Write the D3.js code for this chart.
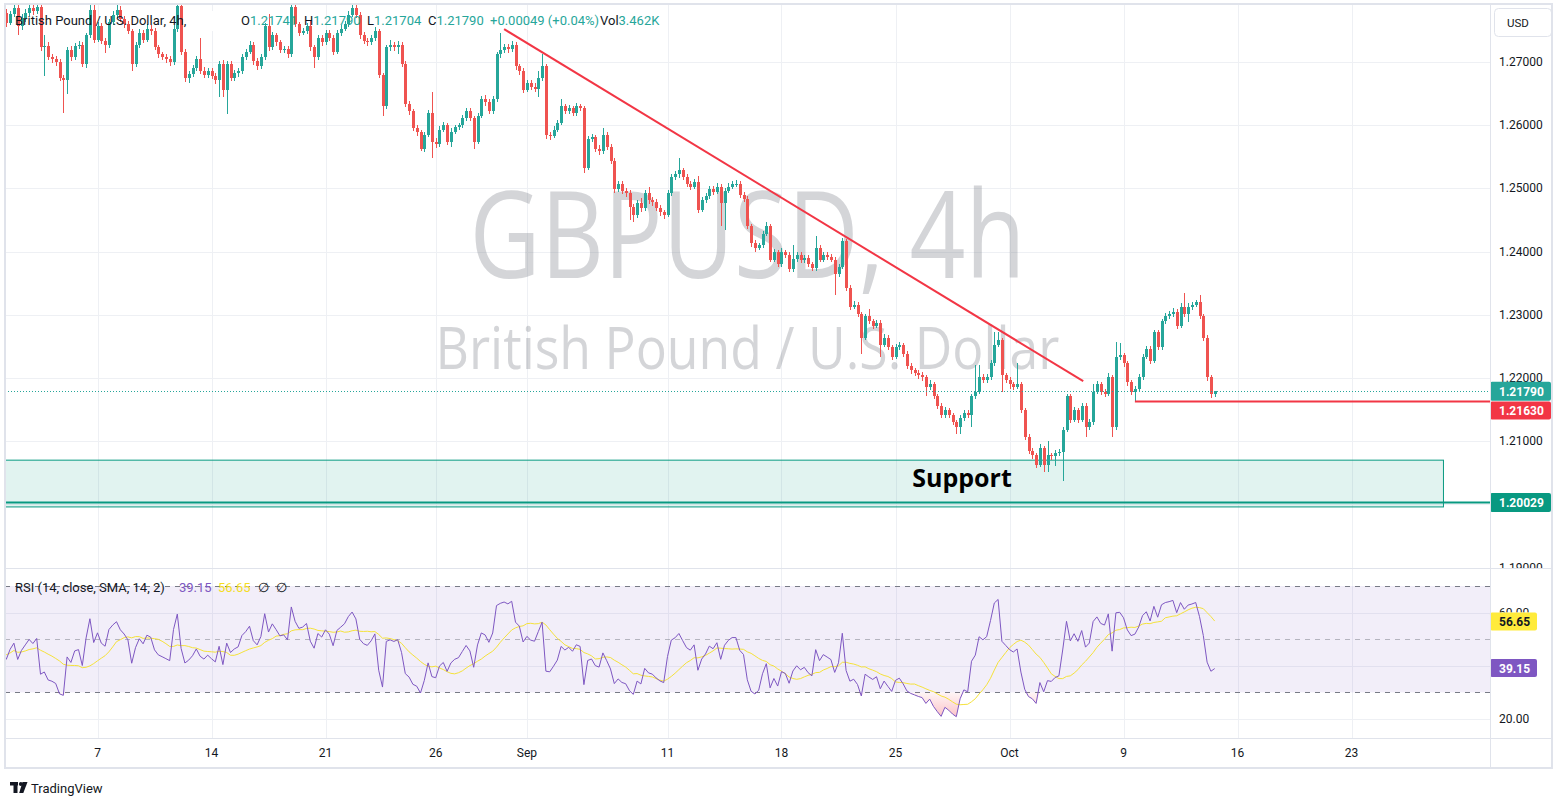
<!DOCTYPE html>
<html>
<head>
<meta charset="utf-8">
<script src="https://cdn.jsdelivr.net/npm/d3@7"></script>
<style>
  body { margin: 0; background: #fff; }
  svg { display: block; font-family: Roboto, "Noto Sans", sans-serif; }
</style>
</head>
<body>
<svg id="chart" width="1567" height="807"></svg>
<script>
// ---- data (GBPUSD 4h) ----
const firstOpen = 1.2770

const closes = [
  1.2778,1.2762,1.2776,1.2785,1.2757,1.2770,1.2778,1.2786,1.2780,1.2787,
  1.2723,1.2726,1.2708,1.2705,1.2700,1.2675,1.2671,1.2719,1.2708,1.2725,
  1.2727,1.2697,1.2742,1.2783,1.2735,1.2757,1.2734,1.2727,1.2764,1.2775,
  1.2783,1.2768,1.2760,1.2749,1.2697,1.2727,1.2746,1.2735,1.2753,1.2749,
  1.2723,1.2712,1.2708,1.2704,1.2700,1.2753,1.2788,1.2716,1.2675,1.2681,
  1.2690,1.2704,1.2686,1.2679,1.2686,1.2678,1.2671,1.2697,1.2656,1.2697,
  1.2675,1.2682,1.2686,1.2708,1.2716,1.2727,1.2701,1.2693,1.2708,1.2757,
  1.2723,1.2742,1.2731,1.2719,1.2721,1.2712,1.2787,1.2760,1.2746,1.2749,
  1.2757,1.2723,1.2708,1.2738,1.2731,1.2746,1.2738,1.2716,1.2746,1.2753,
  1.2760,1.2775,1.2785,1.2775,1.2742,1.2734,1.2731,1.2738,1.2749,1.2679,
  1.2630,1.2723,1.2727,1.2723,1.2727,1.2697,1.2634,1.2622,1.2596,1.2589,
  1.2563,1.2585,1.2619,1.2574,1.2570,1.2593,1.2600,1.2574,1.2590,1.2597,
  1.2600,1.2611,1.2622,1.2611,1.2574,1.2615,1.2641,1.2637,1.2622,1.2641,
  1.2712,1.2719,1.2723,1.2720,1.2727,1.2693,1.2686,1.2656,1.2667,1.2660,
  1.2658,1.2675,1.2693,1.2585,1.2583,1.2593,1.2604,1.2630,1.2622,1.2627,
  1.2619,1.2630,1.2627,1.2533,1.2578,1.2581,1.2563,1.2559,1.2585,1.2566,
  1.2544,1.2499,1.2507,1.2496,1.2492,1.2470,1.2458,1.2477,1.2469,1.2492,
  1.2481,1.2478,1.2469,1.2462,1.2458,1.2492,1.2518,1.2522,1.2529,1.2518,
  1.2507,1.2503,1.2510,1.2466,1.2481,1.2488,1.2499,1.2495,1.2503,1.2477,
  1.2496,1.2503,1.2507,1.2507,1.2490,1.2484,1.2440,1.2413,1.2406,1.2410,
  1.2428,1.2440,1.2387,1.2399,1.2380,1.2399,1.2395,1.2372,1.2388,1.2395,
  1.2387,1.2390,1.2380,1.2374,1.2406,1.2387,1.2395,1.2391,1.2387,1.2365,
  1.2376,1.2417,1.2343,1.2313,1.2316,1.2301,1.2264,1.2298,1.2290,1.2283,
  1.2287,1.2253,1.2264,1.2249,1.2234,1.2249,1.2252,1.2238,1.2219,1.2212,
  1.2208,1.2204,1.2201,1.2186,1.2190,1.2171,1.2156,1.2141,1.2149,1.2141,
  1.2130,1.2122,1.2137,1.2145,1.2141,1.2171,1.2178,1.2201,1.2197,1.2201,
  1.2223,1.2253,1.2260,1.2204,1.2197,1.2190,1.2186,1.2190,1.2149,1.2107,
  1.2085,1.2078,1.2063,1.2089,1.2063,1.2078,1.2076,1.2081,1.2083,1.2118,
  1.2171,1.2134,1.2149,1.2134,1.2156,1.2122,1.2130,1.2178,1.2190,1.2178,
  1.2175,1.2201,1.2122,1.2234,1.2236,1.2223,1.2193,1.2178,1.2182,1.2201,
  1.2234,1.2246,1.2227,1.2272,1.2249,1.2290,1.2298,1.2301,1.2305,1.2283,
  1.2313,1.2301,1.2313,1.2316,1.2320,1.2298,1.2264,1.2201,1.2174,1.2179
]

const highs = [
  1.2786,1.2784,1.2781,1.2796,1.2790,1.2776,1.2784,1.2795,1.2792,1.2799,
  1.2792,1.2742,1.2731,1.2713,1.2710,1.2704,1.2680,1.2724,1.2725,1.2730,
  1.2733,1.2731,1.2746,1.2793,1.2790,1.2763,1.2762,1.2738,1.2768,1.2781,
  1.2792,1.2789,1.2773,1.2765,1.2753,1.2732,1.2752,1.2750,1.2760,1.2758,
  1.2754,1.2727,1.2716,1.2713,1.2709,1.2758,1.2798,1.2792,1.2720,1.2686,
  1.2696,1.2710,1.2738,1.2692,1.2691,1.2690,1.2682,1.2702,1.2703,1.2701,
  1.2702,1.2687,1.2690,1.2712,1.2721,1.2733,1.2732,1.2706,1.2712,1.2762,
  1.2776,1.2747,1.2746,1.2735,1.2726,1.2725,1.2796,1.2791,1.2764,1.2754,
  1.2762,1.2766,1.2727,1.2742,1.2743,1.2751,1.2751,1.2742,1.2750,1.2758,
  1.2765,1.2780,1.2795,1.2800,1.2779,1.2747,1.2738,1.2743,1.2755,1.2753,
  1.2683,1.2727,1.2735,1.2732,1.2733,1.2731,1.2701,1.2638,1.2626,1.2600,
  1.2593,1.2590,1.2624,1.2652,1.2579,1.2598,1.2605,1.2604,1.2595,1.2601,
  1.2604,1.2616,1.2628,1.2627,1.2615,1.2620,1.2646,1.2647,1.2641,1.2646,
  1.2716,1.2746,1.2729,1.2728,1.2733,1.2731,1.2697,1.2690,1.2672,1.2671,
  1.2666,1.2686,1.2712,1.2697,1.2590,1.2598,1.2609,1.2641,1.2634,1.2632,
  1.2631,1.2635,1.2634,1.2631,1.2583,1.2586,1.2585,1.2568,1.2596,1.2589,
  1.2570,1.2548,1.2512,1.2511,1.2500,1.2497,1.2475,1.2482,1.2485,1.2497,
  1.2503,1.2486,1.2483,1.2474,1.2466,1.2497,1.2523,1.2527,1.2548,1.2533,
  1.2522,1.2511,1.2515,1.2520,1.2486,1.2493,1.2504,1.2504,1.2508,1.2507,
  1.2500,1.2508,1.2512,1.2513,1.2511,1.2495,1.2488,1.2444,1.2418,1.2414,
  1.2432,1.2447,1.2444,1.2404,1.2403,1.2405,1.2403,1.2399,1.2410,1.2400,
  1.2399,1.2395,1.2394,1.2384,1.2425,1.2410,1.2400,1.2399,1.2396,1.2391,
  1.2381,1.2421,1.2420,1.2347,1.2322,1.2320,1.2305,1.2302,1.2309,1.2294,
  1.2292,1.2291,1.2269,1.2268,1.2253,1.2254,1.2257,1.2256,1.2242,1.2223,
  1.2216,1.2212,1.2209,1.2205,1.2197,1.2194,1.2175,1.2160,1.2154,1.2153,
  1.2145,1.2134,1.2141,1.2150,1.2149,1.2175,1.2220,1.2220,1.2206,1.2206,
  1.2228,1.2272,1.2272,1.2264,1.2208,1.2201,1.2194,1.2223,1.2194,1.2153,
  1.2111,1.2090,1.2082,1.2096,1.2093,1.2100,1.2082,1.2086,1.2088,1.2122,
  1.2175,1.2175,1.2154,1.2153,1.2160,1.2160,1.2135,1.2190,1.2195,1.2194,
  1.2183,1.2208,1.2205,1.2257,1.2255,1.2240,1.2227,1.2197,1.2187,1.2206,
  1.2238,1.2251,1.2250,1.2276,1.2276,1.2294,1.2303,1.2306,1.2310,1.2309,
  1.2318,1.2335,1.2318,1.2321,1.2324,1.2331,1.2302,1.2268,1.2205,1.2179
]

const lows = [
  1.2764,1.2755,1.2758,1.2771,1.2742,1.2750,1.2764,1.2773,1.2774,1.2776,
  1.2718,1.2678,1.2703,1.2699,1.2694,1.2670,1.2620,1.2650,1.2702,1.2703,
  1.2720,1.2692,1.2690,1.2738,1.2730,1.2731,1.2729,1.2714,1.2722,1.2759,
  1.2770,1.2764,1.2754,1.2744,1.2686,1.2692,1.2722,1.2730,1.2731,1.2743,
  1.2719,1.2707,1.2703,1.2699,1.2694,1.2696,1.2748,1.2711,1.2669,1.2667,
  1.2676,1.2686,1.2681,1.2674,1.2675,1.2673,1.2665,1.2645,1.2645,1.2617,
  1.2670,1.2670,1.2677,1.2681,1.2703,1.2712,1.2696,1.2688,1.2689,1.2703,
  1.2718,1.2719,1.2726,1.2714,1.2715,1.2707,1.2708,1.2755,1.2741,1.2742,
  1.2745,1.2718,1.2690,1.2703,1.2726,1.2727,1.2733,1.2711,1.2712,1.2741,
  1.2749,1.2756,1.2771,1.2770,1.2737,1.2729,1.2726,1.2727,1.2734,1.2674,
  1.2615,1.2626,1.2718,1.2717,1.2712,1.2692,1.2629,1.2616,1.2591,1.2583,
  1.2559,1.2557,1.2581,1.2548,1.2564,1.2566,1.2589,1.2569,1.2566,1.2586,
  1.2593,1.2596,1.2607,1.2606,1.2563,1.2570,1.2611,1.2631,1.2617,1.2618,
  1.2637,1.2707,1.2714,1.2715,1.2716,1.2688,1.2680,1.2651,1.2652,1.2655,
  1.2652,1.2645,1.2670,1.2578,1.2577,1.2579,1.2589,1.2600,1.2617,1.2618,
  1.2614,1.2615,1.2622,1.2525,1.2529,1.2573,1.2558,1.2553,1.2555,1.2561,
  1.2539,1.2492,1.2495,1.2491,1.2487,1.2450,1.2447,1.2453,1.2463,1.2465,
  1.2476,1.2472,1.2464,1.2457,1.2452,1.2454,1.2488,1.2513,1.2517,1.2513,
  1.2502,1.2498,1.2499,1.2461,1.2462,1.2477,1.2484,1.2490,1.2491,1.2440,
  1.2434,1.2492,1.2499,1.2502,1.2485,1.2479,1.2435,1.2408,1.2399,1.2403,
  1.2406,1.2424,1.2383,1.2383,1.2375,1.2376,1.2390,1.2367,1.2368,1.2384,
  1.2382,1.2382,1.2376,1.2370,1.2370,1.2383,1.2383,1.2387,1.2383,1.2331,
  1.2360,1.2372,1.2338,1.2308,1.2309,1.2296,1.2238,1.2260,1.2285,1.2278,
  1.2279,1.2234,1.2249,1.2245,1.2229,1.2230,1.2245,1.2233,1.2215,1.2207,
  1.2203,1.2199,1.2196,1.2171,1.2181,1.2166,1.2151,1.2136,1.2137,1.2136,
  1.2125,1.2111,1.2111,1.2132,1.2136,1.2122,1.2167,1.2174,1.2192,1.2192,
  1.2197,1.2219,1.2249,1.2178,1.2192,1.2182,1.2181,1.2182,1.2144,1.2102,
  1.2080,1.2072,1.2057,1.2059,1.2051,1.2051,1.2071,1.2060,1.2076,1.2037,
  1.2114,1.2129,1.2130,1.2129,1.2130,1.2107,1.2117,1.2126,1.2174,1.2173,
  1.2170,1.2171,1.2107,1.2118,1.2229,1.2218,1.2188,1.2173,1.2163,1.2178,
  1.2197,1.2230,1.2222,1.2223,1.2244,1.2245,1.2285,1.2293,1.2297,1.2278,
  1.2279,1.2296,1.2289,1.2308,1.2312,1.2293,1.2259,1.2196,1.2168,1.2170
]

// time axis (bar index of each label)
const dateTicks = [25, 55, 85, 114, 138, 175, 205, 235, 265, 295, 325, 355]
const dateLabels = ["7", "14", "21", "26", "Sep", "11", "18", "25", "Oct", "9", "16", "23"]

const priceTicks = [1.19, 1.20, 1.21, 1.22, 1.23, 1.24, 1.25, 1.26, 1.27]
const rsiTicks = [20, 40, 60]
const rsiTickLabels = [20, 60]   // 40.00 sits fully under the RSI value tag
const rsiLevels = [70, 50, 30]

// drawings
const trendBars = [132, 284.4]
const trendPrices = [1.2752, 1.2195]
const rayBar = 298
const rayPrice = 1.2163
const supportBars = [-10, 379.2]
const supportPrices = [1.2070, 1.1996]
const supportLine = 1.20029
const supportLabelAt = [252.5, 1.2043]

// legend values
const lastPrice = 1.2179
const ohlcKeys = ["O", "H", "L", "C"]
const ohlcVals = ["1.21741", "1.21790", "1.21704", "1.21790"]
const changeText = "+0.00049 (+0.04%)"
const volText = "3.462K"
const rsiLast = 39.15
const rsiMaLast = 56.65
const rsiSeed = [0.0007, 0.0009]   // avg gain / avg loss before the first bar

// ---- layout ----
const paneL = 5, paneR = 1490, mainT = 5, mainB = 568, rsiT = 569, rsiB = 738, axisB = 768, axisR = 1552
const up = "#26a69a", down = "#ef5350", gridCol = "#eef0f4", textCol = "#131722"

const svg = d3.select("#chart")

const x = d3.scaleLinear().domain([0, 100]).range([2.5, 382.5])
const y = d3.scaleLinear().domain([1.19, 1.27]).range([567.6, 62])
const yr = d3.scaleLinear().domain([20, 70]).range([719, 586])

const defs = svg.append("defs")
defs.append("clipPath").attr("id", "clipMain").append("rect")
    .attr("x", paneL).attr("y", mainT).attr("width", paneR - paneL).attr("height", mainB - mainT)
defs.append("clipPath").attr("id", "clipRsi").append("rect")
    .attr("x", paneL).attr("y", rsiT).attr("width", paneR - paneL).attr("height", rsiB - rsiT)
defs.append("clipPath").attr("id", "clipAxis").append("rect")
    .attr("x", paneR).attr("y", mainT).attr("width", axisR - paneR).attr("height", mainB - mainT)
// rsi axis labels are hidden where the value tags sit
const rsiAxisClip = defs.append("clipPath").attr("id", "clipRsiAxis")
rsiAxisClip.append("rect").attr("x", paneR).attr("y", rsiT)
    .attr("width", axisR - paneR).attr("height", yr(rsiMaLast) - 9 - rsiT)
rsiAxisClip.append("rect").attr("x", paneR).attr("y", yr(rsiLast) + 9)
    .attr("width", axisR - paneR).attr("height", rsiB - yr(rsiLast) - 9)

const osGrad = defs.append("linearGradient").attr("id", "osGrad")
    .attr("gradientUnits", "userSpaceOnUse").attr("x1", 0).attr("x2", 0)
    .attr("y1", yr(30)).attr("y2", yr(15))
osGrad.append("stop").attr("offset", 0).attr("stop-color", "#f23645").attr("stop-opacity", 0.05)
osGrad.append("stop").attr("offset", 1).attr("stop-color", "#f23645").attr("stop-opacity", 0.45)

// ---- grid ----
const grid = svg.append("g").attr("stroke", gridCol).attr("stroke-width", 1)
grid.selectAll(".hp").data(priceTicks).enter().append("line")
    .attr("x1", paneL).attr("x2", paneR)
    .attr("y1", d => Math.round(y(d)) + 0.5).attr("y2", d => Math.round(y(d)) + 0.5)
grid.selectAll(".hr").data(rsiTicks).enter().append("line")
    .attr("x1", paneL).attr("x2", paneR)
    .attr("y1", d => Math.round(yr(d)) + 0.5).attr("y2", d => Math.round(yr(d)) + 0.5)
grid.selectAll(".vt").data(dateTicks).enter().append("line")
    .attr("x1", d => Math.round(x(d)) + 0.5).attr("x2", d => Math.round(x(d)) + 0.5)
    .attr("y1", mainT).attr("y2", rsiB)

// ---- watermark ----
const wm = svg.append("g").attr("fill", "rgba(120,123,134,0.32)").attr("text-anchor", "middle")
    .style("font-family", "'Open Sans', 'Noto Sans', sans-serif")
wm.append("text").attr("x", (paneL + paneR) / 2).attr("y", 278)
    .attr("font-size", 120).attr("textLength", 556).attr("lengthAdjust", "spacingAndGlyphs")
    .text("GBPUSD, 4h")
wm.append("text").attr("x", (paneL + paneR) / 2).attr("y", 369)
    .attr("font-size", 58).attr("textLength", 624).attr("lengthAdjust", "spacingAndGlyphs")
    .text("British Pound / U.S. Dollar")

// ---- main pane ----
const main = svg.append("g").attr("clip-path", "url(#clipMain)")

main.append("rect")
    .attr("x", x(supportBars[0])).attr("width", x(supportBars[1]) - x(supportBars[0]))
    .attr("y", y(supportPrices[0])).attr("height", y(supportPrices[1]) - y(supportPrices[0]))
    .attr("fill", "rgba(8,153,129,0.12)").attr("stroke", "#089981").attr("stroke-width", 1)

const bars = closes.map((c, i) => {
    const o = i ? closes[i - 1] : firstOpen
    return { i, o, c, h: Math.max(highs[i], o, c), l: Math.min(lows[i], o, c) }
})

const candles = main.append("g").attr("shape-rendering", "crispEdges")
candles.selectAll(".wick").data(bars).enter().append("rect")
    .attr("x", d => Math.round(x(d.i)))
    .attr("width", 1)
    .attr("y", d => y(d.h))
    .attr("height", d => y(d.l) - y(d.h))
    .attr("fill", d => d.c >= d.o ? up : down)
candles.selectAll(".body").data(bars).enter().append("rect")
    .attr("x", d => Math.round(x(d.i)) - 1)
    .attr("width", 3)
    .attr("y", d => y(Math.max(d.o, d.c)))
    .attr("height", d => Math.max(1, Math.abs(y(d.o) - y(d.c))))
    .attr("fill", d => d.c >= d.o ? up : down)

// last price dotted line
main.append("line")
    .attr("x1", paneL).attr("x2", paneR)
    .attr("y1", Math.round(y(lastPrice)) + 0.5).attr("y2", Math.round(y(lastPrice)) + 0.5)
    .attr("stroke", up).attr("stroke-dasharray", "1,2")

// support line
main.append("line")
    .attr("x1", paneL).attr("x2", paneR)
    .attr("y1", y(supportLine)).attr("y2", y(supportLine))
    .attr("stroke", "#089981").attr("stroke-width", 2)

// horizontal ray
main.append("line")
    .attr("x1", x(rayBar)).attr("x2", paneR)
    .attr("y1", y(rayPrice)).attr("y2", y(rayPrice))
    .attr("stroke", "#f23645").attr("stroke-width", 2)

// trend line
main.append("path")
    .datum(trendBars.map((b, k) => [b, trendPrices[k]]))
    .attr("d", d3.line().x(d => x(d[0])).y(d => y(d[1])))
    .attr("fill", "none").attr("stroke", "#f23645").attr("stroke-width", 2)

main.append("text")
    .attr("x", x(supportLabelAt[0])).attr("y", y(supportLabelAt[1]))
    .attr("text-anchor", "middle").attr("dominant-baseline", "central")
    .attr("font-size", 25).attr("font-weight", 700).attr("fill", "#000")
    .style("font-family", "'Open Sans', 'Noto Sans', sans-serif")
    .text("Support")

// ---- RSI pane ----
let ag = rsiSeed[0], al = rsiSeed[1]
const rsi = closes.map((c, i) => {
    const ch = c - (i ? closes[i - 1] : firstOpen)
    ag = (ag * 13 + Math.max(ch, 0)) / 14
    al = (al * 13 + Math.max(-ch, 0)) / 14
    return 100 - 100 / (1 + ag / al)
})
const rsiMa = rsi.map((v, i) => d3.mean(rsi.slice(Math.max(0, i - 13), i + 1)))

const rp = svg.append("g").attr("clip-path", "url(#clipRsi)")
rp.append("rect")
    .attr("x", paneL).attr("width", paneR - paneL)
    .attr("y", yr(70)).attr("height", yr(30) - yr(70))
    .attr("fill", "rgba(126,87,194,0.1)")
rp.selectAll(".lvl").data(rsiLevels).enter().append("line")
    .attr("x1", paneL).attr("x2", paneR)
    .attr("y1", d => Math.round(yr(d)) + 0.5).attr("y2", d => Math.round(yr(d)) + 0.5)
    .attr("stroke", d => d === 50 ? "rgba(120,123,134,0.5)" : "#787b86")
    .attr("stroke-dasharray", "5,5")

rp.append("path").datum(rsi)
    .attr("d", d3.area().x((d, i) => x(i)).y0(yr(30)).y1(d => yr(Math.min(d, 30))))
    .attr("fill", "url(#osGrad)")

rp.append("path").datum(rsiMa)
    .attr("d", d3.line().x((d, i) => x(i)).y(d => yr(d)))
    .attr("fill", "none").attr("stroke", "#f5e23a").attr("stroke-width", 1)
rp.append("path").datum(rsi)
    .attr("d", d3.line().x((d, i) => x(i)).y(d => yr(d)))
    .attr("fill", "none").attr("stroke", "#7e57c2").attr("stroke-width", 1)

// ---- legends ----
const leg = svg.append("g").attr("font-size", 13).attr("dominant-baseline", "central")
leg.append("rect").attr("x", 200).attr("y", 11).attr("width", 36).attr("height", 20).attr("fill", "#fff")
leg.append("text").attr("x", 15).attr("y", 20).attr("fill", textCol).text("British Pound / U.S. Dollar, 4h,")
const ohlcX = [241, 304, 367, 428]
ohlcKeys.forEach((k, j) => {
    const t = leg.append("text").attr("x", ohlcX[j]).attr("y", 20)
    t.append("tspan").attr("fill", textCol).text(k)
    t.append("tspan").attr("fill", up).text(ohlcVals[j])
})
leg.append("text").attr("x", 490).attr("y", 20).attr("fill", up).text(changeText)
const vt = leg.append("text").attr("x", 600).attr("y", 20)
vt.append("tspan").attr("fill", textCol).text("Vol")
vt.append("tspan").attr("fill", up).text(volText)

const rleg = svg.append("g").attr("font-size", 13).attr("dominant-baseline", "central")
rleg.append("text").attr("x", 15).attr("y", 587).attr("fill", textCol).text("RSI (14, close, SMA, 14, 2)")
rleg.append("text").attr("x", 179).attr("y", 587).attr("fill", "#7e57c2").text(rsiLast.toFixed(2))
rleg.append("text").attr("x", 218).attr("y", 587).attr("fill", "#f5dd22").text(rsiMaLast.toFixed(2))
rleg.append("text").attr("x", 258).attr("y", 587).attr("fill", textCol).text("\u2205")
rleg.append("text").attr("x", 276).attr("y", 587).attr("fill", textCol).text("\u2205")

// ---- price axis ----
const fmt = d3.format(".5f")
const pax = svg.append("g").attr("font-size", 12).attr("fill", textCol).attr("dominant-baseline", "central")
pax.append("g").attr("clip-path", "url(#clipAxis)")
    .selectAll("text").data(priceTicks).enter().append("text")
    .attr("x", 1499).attr("y", d => y(d)).text(d => fmt(d))
pax.append("g").attr("clip-path", "url(#clipRsiAxis)")
    .selectAll("text").data(rsiTickLabels).enter().append("text")
    .attr("x", 1499).attr("y", d => yr(d)).text(d => d.toFixed(2))

pax.append("rect").attr("x", 1494.5).attr("y", 8.5).attr("width", 57).attr("height", 28).attr("rx", 4)
    .attr("fill", "#fff").attr("stroke", "#e0e3eb")
pax.append("text").attr("x", 1507).attr("y", 22.5).attr("font-size", 11.5).text("USD")

function priceTag(cy, h, w, bg, fg, label) {
    pax.append("rect").attr("x", paneR).attr("y", cy - h / 2).attr("width", w).attr("height", h)
        .attr("rx", 2).attr("fill", bg)
    pax.append("text").attr("x", paneR + 9).attr("y", cy + 0.5).attr("fill", fg)
        .attr("font-weight", 700).text(label)
}
priceTag(y(lastPrice), 19, 61, up, "#fff", fmt(lastPrice))
priceTag(y(rayPrice) + 9, 18, 61, "#f23645", "#fff", fmt(rayPrice))
priceTag(y(supportLine), 19, 61, "#089981", "#fff", fmt(supportLine))
priceTag(yr(rsiMaLast), 18, 47, "#ffeb3b", textCol, rsiMaLast.toFixed(2))
priceTag(yr(rsiLast), 18, 47, "#7e57c2", "#fff", rsiLast.toFixed(2))

// ---- time axis ----
svg.append("g").attr("font-size", 12).attr("fill", textCol).attr("text-anchor", "middle")
    .attr("dominant-baseline", "central")
    .selectAll("text").data(dateTicks).enter().append("text")
    .attr("x", d => x(d)).attr("y", 753).text((d, k) => dateLabels[k])

// ---- frame ----
const frame = svg.append("g").attr("stroke", "#e0e3eb").attr("fill", "none")
frame.append("rect").attr("x", paneL).attr("y", 4).attr("width", axisR - paneL).attr("height", axisB - 4)
    .attr("stroke-width", 2)
frame.append("line").attr("x1", paneL).attr("x2", axisR).attr("y1", rsiT - 0.5).attr("y2", rsiT - 0.5)
frame.append("line").attr("x1", paneL).attr("x2", axisR).attr("y1", rsiB + 0.5).attr("y2", rsiB + 0.5)
frame.append("line").attr("x1", paneR + 0.5).attr("x2", paneR + 0.5).attr("y1", 4).attr("y2", axisB)

// ---- logo ----
const logo = svg.append("g").attr("fill", "#131722")
logo.append("rect").attr("x", 10).attr("y", 782).attr("width", 8).attr("height", 3.5)
logo.append("rect").attr("x", 13.5).attr("y", 782).attr("width", 4).attr("height", 11)
logo.append("circle").attr("cx", 20.8).attr("cy", 784).attr("r", 1.9)
logo.append("path").attr("d", "M22.5,782 L27.5,782 L23.3,793 L19.2,793 Z")
logo.append("text").attr("x", 31).attr("y", 788).attr("font-size", 13)
    .attr("dominant-baseline", "central").text("TradingView")
</script>
</body>
</html>
